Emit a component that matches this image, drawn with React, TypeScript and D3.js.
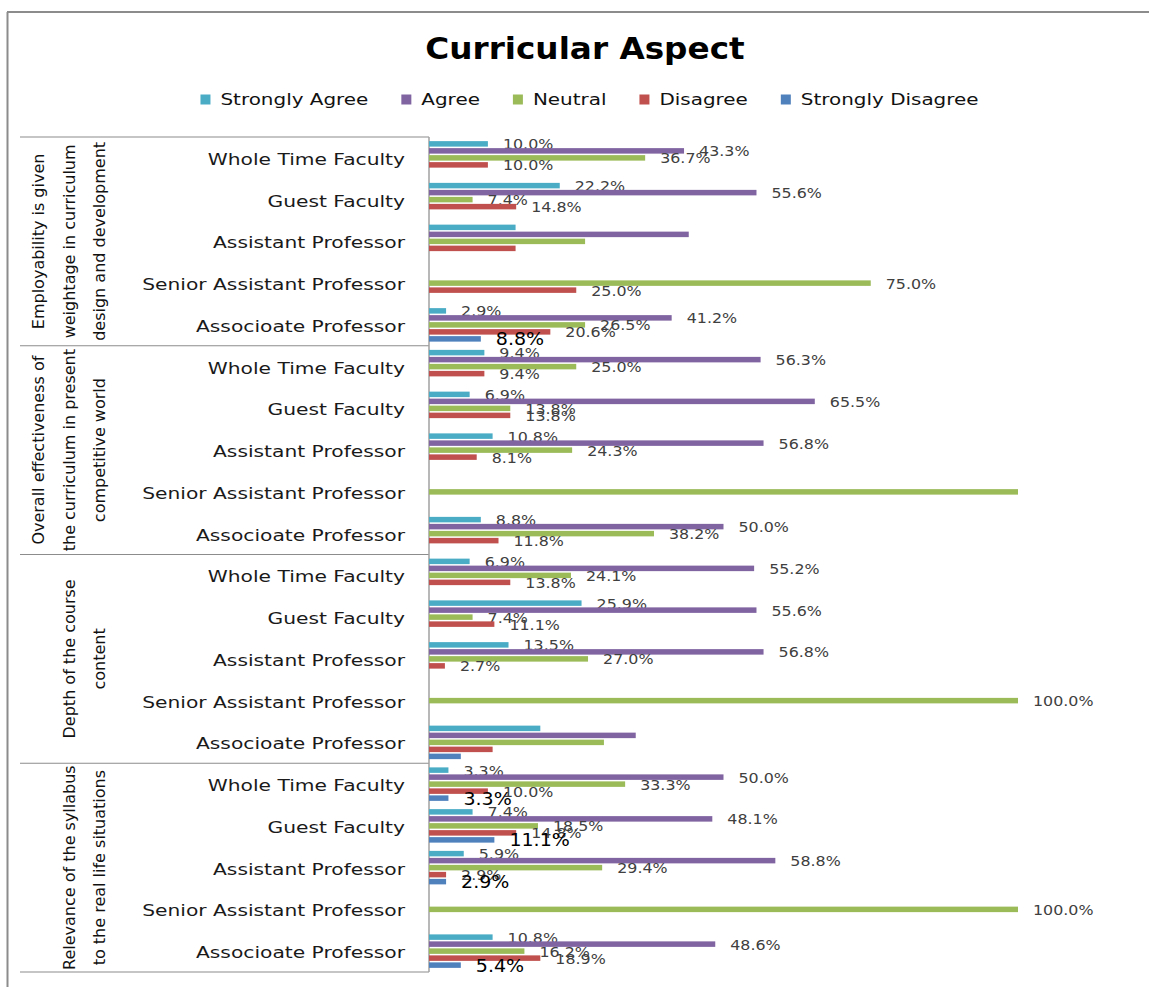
import React, { useEffect, useRef } from 'react'
import * as d3 from 'd3'

const seriesNames = ['Strongly Agree', 'Agree', 'Neutral', 'Disagree', 'Strongly Disagree']
const seriesColors = ['#4BACC6', '#8064A2', '#9BBB59', '#C0504D', '#4F81BD']

const categories = [
  'Whole Time Faculty',
  'Guest Faculty',
  'Assistant Professor',
  'Senior Assistant Professor',
  'Associoate Professor',
]

const aspects = [
  ['Employability is given', 'weightage in curriculum', 'design and development'],
  ['Overall effectiveness of', 'the curriculum in present', 'competitive world'],
  ['Depth of the course', 'content'],
  ['Relevance of the syllabus', 'to the real life situations'],
]

// 20 rows: aspect by aspect, 5 categories each (0 = no bar)
const stronglyAgree = [10.0, 22.2, 14.7, 0, 2.9, 9.4, 6.9, 10.8, 0, 8.8, 6.9, 25.9, 13.5, 0, 18.9, 3.3, 7.4, 5.9, 0, 10.8]
const agree = [43.3, 55.6, 44.1, 0, 41.2, 56.3, 65.5, 56.8, 0, 50.0, 55.2, 55.6, 56.8, 0, 35.1, 50.0, 48.1, 58.8, 0, 48.6]
const neutral = [36.7, 7.4, 26.5, 75.0, 26.5, 25.0, 13.8, 24.3, 100, 38.2, 24.1, 7.4, 27.0, 100, 29.7, 33.3, 18.5, 29.4, 100, 16.2]
const disagree = [10.0, 14.8, 14.7, 25.0, 20.6, 9.4, 13.8, 8.1, 0, 11.8, 13.8, 11.1, 2.7, 0, 10.8, 10.0, 14.8, 2.9, 0, 18.9]
const stronglyDisagree = [0, 0, 0, 0, 8.8, 0, 0, 0, 0, 0, 0, 0, 0, 0, 5.4, 3.3, 11.1, 2.9, 0, 5.4]

// rows whose data labels are not shown in the original
const hiddenLabelRows = [2, 8, 14]

const seriesValues = [stronglyAgree, agree, neutral, disagree, stronglyDisagree]

const W = 1149
const H = 987
const FONT = "'DejaVu Sans', sans-serif"

const App = () => {
  const ref = useRef<SVGSVGElement>(null)

  useEffect(() => {
    const svg = d3.select(ref.current)
    svg.selectAll('*').remove()

    const nRows = aspects.length * categories.length
    const x = d3.scaleLinear().domain([0, 100]).range([429, 1018])
    const y = d3.scaleBand<number>().domain(d3.range(nRows)).range([137, 972])
    const inner = d3.scaleBand<string>().domain(seriesNames).range([-17.5, 17.5])
    const barH = 5.5
    const groupH = y.step() * categories.length

    // chart border
    svg.append('line').attr('x1', 7.5).attr('x2', 7.5).attr('y1', 12).attr('y2', H)
      .attr('stroke', '#8c8c8c').attr('stroke-width', 2)
    svg.append('line').attr('x1', 7).attr('x2', W).attr('y1', 12).attr('y2', 12)
      .attr('stroke', '#8c8c8c').attr('stroke-width', 2)

    // title
    svg.append('text')
      .attr('transform', `translate(585,59) scale(1.09,1)`)
      .attr('text-anchor', 'middle')
      .style('font-family', FONT)
      .style('font-weight', 'bold')
      .style('font-size', '30px')
      .attr('fill', '#000')
      .text('Curricular Aspect')

    // legend
    const legend = svg.append('g')
    const sxLegend = 1.33
    let lx = 0
    seriesNames.forEach((name, i) => {
      const item = legend.append('g').attr('transform', `translate(${lx},0)`)
      item.append('rect').attr('x', 0).attr('y', 94.5).attr('width', 10).attr('height', 10)
        .attr('fill', seriesColors[i])
      const t = item.append('text')
        .attr('transform', `translate(20,105) scale(${sxLegend},1)`)
        .style('font-family', FONT)
        .style('font-size', '15px')
        .attr('fill', '#111')
        .text(name)
      const len = (t.node() as SVGTextElement).getComputedTextLength() * sxLegend
      lx += 20 + len + 33
    })
    const legendW = lx - 33
    legend.attr('transform', `translate(${589.5 - legendW / 2},0)`)

    // category axis box
    d3.range(aspects.length + 1).forEach(g => {
      const yy = 137 + g * groupH
      svg.append('line').attr('x1', 20).attr('x2', 429).attr('y1', yy).attr('y2', yy)
        .attr('stroke', '#8c8c8c').attr('stroke-width', 1.2)
    })
    svg.append('line').attr('x1', 429).attr('x2', 429).attr('y1', 137).attr('y2', 972)
      .attr('stroke', '#a0a0a0').attr('stroke-width', 1.5)

    // aspect (group) labels, rotated
    aspects.forEach((lines, g) => {
      const yc = 137 + (g + 0.5) * groupH
      const baselines = [43.5, 74.5, 105].slice(3 - lines.length)
      const t = svg.append('text')
        .attr('transform', `translate(0,${yc}) rotate(-90)`)
        .attr('text-anchor', 'middle')
        .style('font-family', FONT)
        .style('font-size', '16px')
        .attr('fill', '#111')
      lines.forEach((ln, i) => {
        t.append('tspan').attr('x', 0).attr('y', baselines[i]).text(ln)
      })
    })

    // category labels
    d3.range(nRows).forEach(r => {
      const yc = (y(r) as number) + y.bandwidth() / 2
      svg.append('text')
        .attr('transform', `translate(405,${yc + 7}) scale(1.35,1)`)
        .attr('text-anchor', 'end')
        .style('font-family', FONT)
        .style('font-size', '15px')
        .attr('fill', '#1a1a1a')
        .text(categories[r % categories.length])
    })

    // bars
    seriesNames.forEach((name, s) => {
      const vals = seriesValues[s]
      const rows = d3.range(nRows).filter(r => vals[r] > 0)
      const barY = (r: number) =>
        (y(r) as number) + y.bandwidth() / 2 + (inner(name) as number) + (inner.bandwidth() - barH) / 2

      svg.append('g')
        .selectAll('rect')
        .data(rows)
        .join('rect')
        .attr('x', x(0))
        .attr('y', r => barY(r))
        .attr('width', r => x(vals[r]) - x(0))
        .attr('height', barH)
        .attr('fill', seriesColors[s])

      const big = s === 4
      svg.append('g')
        .selectAll('text')
        .data(rows.filter(r => !hiddenLabelRows.includes(r)))
        .join('text')
        .attr('transform', r =>
          `translate(${x(vals[r]) + 15},${barY(r) + barH / 2 + (big ? 6.5 : 5.5)}) scale(${big ? 1.12 : 1.16},1)`)
        .style('font-family', FONT)
        .style('font-size', big ? '17px' : '13.7px')
        .attr('fill', big ? '#000' : '#404040')
        .text(r => `${vals[r].toFixed(1)}%`)
    })
  }, [])

  return (
    <svg
      ref={ref}
      width={W}
      height={H}
      style={{ position: 'absolute', left: 0, top: 0, background: '#fff' }}
    />
  )
}

export default App
